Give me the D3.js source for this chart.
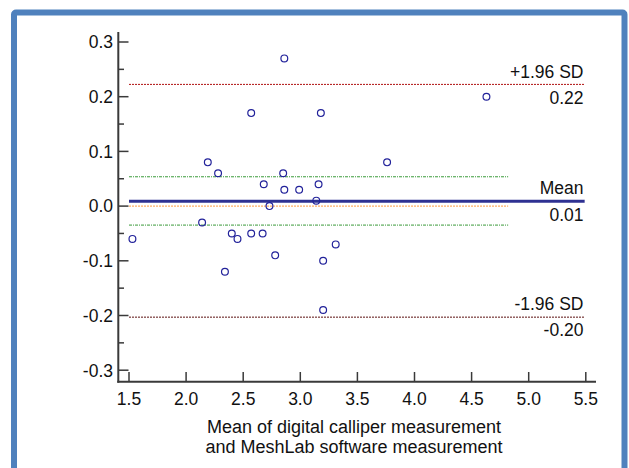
<!DOCTYPE html>
<html lang="en">
<head>
<meta charset="UTF-8">
<script src="https://d3js.org/d3.v7.min.js"></script>
<style>
  body { margin: 0; background: #fff; }
  text { font-family: "Liberation Sans", Arial, sans-serif; fill: #111; }
</style>
</head>
<body>
<script>
// Bland-Altman data: mean of both methods vs difference
const meanVals = [2.86, 2.57, 3.18, 2.19, 2.28, 2.68, 2.85, 2.86, 2.99, 3.16, 3.14, 2.73, 3.76,
                  4.63, 1.53, 2.14, 2.40, 2.45, 2.34, 2.57, 2.67, 2.78, 3.20, 3.31, 3.20];
const diffVals = [0.27, 0.17, 0.17, 0.08, 0.06, 0.04, 0.06, 0.03, 0.03, 0.04, 0.01, 0.00, 0.08,
                  0.20, -0.06, -0.03, -0.05, -0.06, -0.12, -0.05, -0.05, -0.09, -0.10, -0.07, -0.19];

const xTicks = [1.5, 2.0, 2.5, 3.0, 3.5, 4.0, 4.5, 5.0, 5.5];
const yTicks = [-0.3, -0.2, -0.1, 0.0, 0.1, 0.2, 0.3];
const yMinor = [-0.25, -0.15, -0.05, 0.05, 0.15, 0.25];

const meanDiff = 0.009;
const upperLoA = 0.2225;
const lowerLoA = -0.203;
const ciMean = [0.0536, -0.0347];

const width = 629, height = 468;
const fs = "17.5px";

const svg = d3.select("body").append("svg")
  .attr("width", width)
  .attr("height", height);

// blue frame
svg.append("rect")
  .attr("x", 14).attr("y", 12.5)
  .attr("width", 610.5).attr("height", 480)
  .attr("rx", 2)
  .attr("fill", "none")
  .attr("stroke", "#4f81bd")
  .attr("stroke-width", 6);

const x = d3.scaleLinear().domain([1.5, 5.5]).range([129, 585.8]);
const y = d3.scaleLinear().domain([-0.3, 0.3]).range([370.2, 42]);

const axisColor = "#3a3a3a";

// reference lines
function hline(v, x0, x1, color, w, dash) {
  svg.append("line")
    .attr("x1", x(x0)).attr("x2", x(x1))
    .attr("y1", y(v)).attr("y2", y(v))
    .attr("stroke", color)
    .attr("stroke-width", w)
    .attr("stroke-dasharray", dash);
}
hline(upperLoA, 1.5, 5.49, "#b01010", 1, "2,1");
hline(lowerLoA, 1.5, 5.49, "#5a1010", 1, "2,1");
hline(ciMean[0], 1.5, 4.82, "#3a9a3a", 1, "3,1,1,1");
hline(ciMean[1], 1.5, 4.82, "#3a9a3a", 1, "3,1,1,1");
hline(0, 1.5, 4.82, "#ff9a40", 1, "2,1");
hline(meanDiff, 1.5, 5.49, "#2e3192", 3, null);

// axes
svg.append("line")
  .attr("x1", 118.3).attr("x2", 118.3)
  .attr("y1", 32).attr("y2", 382.7)
  .attr("stroke", axisColor).attr("stroke-width", 2);
svg.append("line")
  .attr("x1", 117.3).attr("x2", 596)
  .attr("y1", 381.7).attr("y2", 381.7)
  .attr("stroke", axisColor).attr("stroke-width", 2);

svg.selectAll(".ytick").data(yTicks).enter().append("line")
  .attr("x1", 118.3).attr("x2", 128.5)
  .attr("y1", d => y(d)).attr("y2", d => y(d))
  .attr("stroke", axisColor).attr("stroke-width", 1.5);
svg.selectAll(".yminor").data(yMinor).enter().append("line")
  .attr("x1", 118.3).attr("x2", 124)
  .attr("y1", d => y(d)).attr("y2", d => y(d))
  .attr("stroke", axisColor).attr("stroke-width", 1.5);
svg.selectAll(".ylab").data(yTicks).enter().append("text")
  .attr("x", 113).attr("y", d => y(d))
  .attr("dy", "0.36em")
  .attr("text-anchor", "end")
  .style("font-size", fs)
  .text(d => d3.format(".1f")(d).replace("−", "-"));

svg.selectAll(".xtick").data(xTicks).enter().append("line")
  .attr("x1", d => x(d)).attr("x2", d => x(d))
  .attr("y1", 381.7).attr("y2", 372)
  .attr("stroke", axisColor).attr("stroke-width", 1.5);
svg.selectAll(".xlab").data(xTicks).enter().append("text")
  .attr("x", d => x(d)).attr("y", 399)
  .attr("dy", "0.36em")
  .attr("text-anchor", "middle")
  .style("font-size", fs)
  .text(d => d3.format(".1f")(d));

// axis title
svg.append("text").attr("x", 354).attr("y", 426.5).attr("dy", "0.36em")
  .attr("text-anchor", "middle").style("font-size", "18px")
  .text("Mean of digital calliper measurement");
svg.append("text").attr("x", 354).attr("y", 447).attr("dy", "0.36em")
  .attr("text-anchor", "middle").style("font-size", "18px")
  .text("and MeshLab software measurement");

// line labels
const labels = [
  { t: "+1.96 SD", v: upperLoA, off: -13 },
  { t: d3.format(".2f")(upperLoA), v: upperLoA, off: 13 },
  { t: "Mean", v: meanDiff, off: -13 },
  { t: d3.format(".2f")(meanDiff), v: meanDiff, off: 14 },
  { t: "-1.96 SD", v: lowerLoA, off: -13 },
  { t: d3.format(".2f")(lowerLoA).replace("−", "-"), v: lowerLoA, off: 13 }
];
svg.selectAll(".llab").data(labels).enter().append("text")
  .attr("x", 583.5).attr("y", d => y(d.v) + d.off)
  .attr("dy", "0.36em")
  .attr("text-anchor", "end")
  .style("font-size", fs)
  .text(d => d.t);

// points
svg.selectAll(".pt").data(meanVals).enter().append("circle")
  .attr("cx", d => x(d))
  .attr("cy", (d, i) => y(diffVals[i]))
  .attr("r", 3.4)
  .attr("fill", "none")
  .attr("stroke", "#22229a")
  .attr("stroke-width", 1.2);
</script>
</body>
</html>
